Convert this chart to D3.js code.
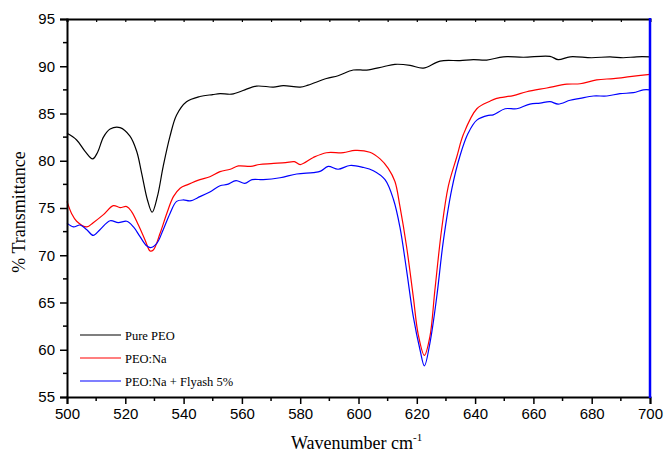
<!DOCTYPE html>
<html>
<head>
<meta charset="utf-8">
<script src="https://cdn.jsdelivr.net/npm/d3@7"></script>
<style>
  body { margin: 0; background: #fff; }
  svg { display: block; }
</style>
</head>
<body>
<svg id="chart" width="664" height="456"></svg>
<script>
// FTIR spectra, [wavenumber, % transmittance]
var pureEO = [
  [500, 82.9], [503.3, 82.2], [506.2, 81.0], [508.8, 80.2], [510.5, 80.9], [512.5, 82.5],
  [514.8, 83.35], [518.2, 83.5], [521.6, 82.6], [523.9, 81.0], [525.6, 78.7], [527.6, 75.85],
  [529.2, 74.55], [531, 76.2], [533, 79.4], [535.3, 82.55], [537.6, 84.85], [541, 86.25],
  [545.6, 86.8], [550, 87.0], [552.5, 87.1], [556.5, 87.05], [561, 87.5], [565, 87.9],
  [570.8, 87.8], [574.2, 87.95], [580, 87.8], [582.7, 88.0], [589, 88.7], [593, 89.0],
  [598.2, 89.6], [602.8, 89.6], [608.5, 89.95], [612.5, 90.2], [617.7, 90.1], [622.2, 89.8],
  [628, 90.55], [634.8, 90.6], [639.4, 90.7], [644, 90.65], [649.7, 91.0], [656.6, 90.95],
  [665.7, 91.05], [668.5, 90.7], [672.6, 91.0], [680, 90.9], [686.3, 91.0], [690.8, 90.9],
  [695.4, 91.0], [700, 91.0]
];
var peoNa = [
  [500, 75.7], [501.6, 74.4], [503.3, 73.6], [506.8, 73.0], [509, 73.45], [512.5, 74.3],
  [515.9, 75.25], [518.2, 75.05], [520.5, 75.15], [522.2, 74.6], [524.5, 73.2], [526.8, 71.6],
  [528.5, 70.45], [529.6, 70.55], [531.9, 72.3], [534.2, 74.4], [536.5, 76.2], [538.8, 77.1],
  [541.6, 77.5], [545.6, 78.0], [549, 78.3], [552.5, 78.85], [556, 79.1], [558.8, 79.45],
  [563, 79.4], [566, 79.6], [570, 79.7], [575, 79.8], [578, 79.9], [580, 79.6], [584.5, 80.35],
  [589, 80.85], [594.8, 80.85], [598.8, 81.1], [603.9, 80.9], [607.4, 80.2], [610.2, 79.2],
  [612.5, 77.8], [614.2, 75.2], [616.5, 70.9], [618.8, 65.6], [620.5, 61.6], [622.6, 59.4],
  [624.5, 61.4], [626.2, 66.3], [628.5, 72.7], [630.8, 77.3], [633.7, 80.4], [636, 82.8],
  [640.6, 85.5], [645.1, 86.3], [647.4, 86.6], [653.1, 86.9], [657.7, 87.3], [664.6, 87.7],
  [671.5, 88.1], [676, 88.15], [681.7, 88.55], [687.5, 88.7], [693.1, 88.9], [700, 89.15]
];
var peoNaFly = [
  [500, 73.4], [502.2, 73.0], [504.5, 73.2], [506.8, 72.7], [509, 72.1], [511.3, 72.7],
  [514.8, 73.65], [517.6, 73.45], [520.5, 73.6], [522.8, 73.0], [525, 72.0], [527.3, 71.0],
  [528.7, 70.8], [530.8, 71.25], [533, 72.7], [535.3, 74.4], [537.6, 75.7], [539.9, 75.85],
  [542.2, 75.75], [545.6, 76.2], [549, 76.7], [552.5, 77.35], [555, 77.5], [558, 77.9],
  [561, 77.6], [563.5, 78.0], [567.3, 78.0], [573.1, 78.2], [578.8, 78.6], [584.5, 78.75],
  [587, 78.9], [589.6, 79.4], [593, 79.1], [597.1, 79.5], [601.6, 79.3], [605.1, 78.95],
  [609.1, 78.0], [612, 75.9], [614.2, 73.0], [616.5, 68.4], [618.8, 63.5], [621.1, 60.0],
  [622.6, 58.3], [624.5, 60.7], [626.8, 65.5], [629.1, 71.5], [632, 77.0], [634.8, 80.5],
  [637.6, 82.9], [640.6, 84.3], [644.6, 84.8], [646.2, 84.85], [650.3, 85.5], [654.3, 85.5],
  [658.8, 86.0], [662.3, 86.1], [665.7, 86.25], [668.5, 86.0], [672.6, 86.4], [676, 86.6],
  [680.6, 86.85], [685.2, 86.85], [689.7, 87.1], [694.3, 87.2], [697.7, 87.5], [700, 87.5]
];
var seriesNames = ["Pure PEO", "PEO:Na", "PEO:Na + Flyash 5%"];
var seriesColors = ["#000000", "#ff0000", "#0000ff"];
var xTicks = d3.range(500, 701, 20);
var yTicks = d3.range(55, 96, 5);

var margin = { left: 67, right: 14, top: 19, bottom: 59 };
var W = 664, H = 456;
var svg = d3.select("#chart");

var x = d3.scaleLinear().domain([500, 700]).range([margin.left, W - margin.right]);
var y = d3.scaleLinear().domain([55, 95]).range([H - margin.bottom, margin.top]);

// curves first, axes on top
var line = d3.line()
  .x(d => x(d[0]))
  .y(d => y(d[1]))
  .curve(d3.curveCatmullRom.alpha(0.5));

var g = svg.append("g");
[pureEO, peoNa, peoNaFly].forEach((s, i) => {
  g.append("path")
    .datum(s)
    .attr("fill", "none")
    .attr("stroke", seriesColors[i])
    .attr("stroke-width", 1.2)
    .attr("d", line);
});

var tickFont = "'Liberation Sans', Arial, sans-serif";

// bottom axis
var xAxis = svg.append("g")
  .attr("transform", `translate(0,${y(55)})`)
  .call(d3.axisBottom(x).tickValues(xTicks).tickSize(7).tickPadding(4).tickFormat(d3.format("d")));
xAxis.select(".domain").attr("stroke-width", 2);
xAxis.selectAll(".tick line").attr("stroke-width", 1.5);
xAxis.selectAll("text").attr("font-family", tickFont).attr("font-size", 15).attr("fill", "#000");
xAxis.selectAll(".minor")
  .data(d3.range(510, 700, 20))
  .join("line")
  .attr("x1", d => x(d)).attr("x2", d => x(d))
  .attr("y1", 0).attr("y2", 4)
  .attr("stroke", "#000").attr("stroke-width", 1.5);

// left axis
var yAxis = svg.append("g")
  .attr("transform", `translate(${x(500)},0)`)
  .call(d3.axisLeft(y).tickValues(yTicks).tickSize(7).tickPadding(5));
yAxis.select(".domain").attr("stroke-width", 2);
yAxis.selectAll(".tick line").attr("stroke-width", 1.5);
yAxis.selectAll("text").attr("font-family", tickFont).attr("font-size", 15).attr("fill", "#000");
yAxis.selectAll(".minor")
  .data(d3.range(57.5, 95, 5))
  .join("line")
  .attr("x1", 0).attr("x2", -4)
  .attr("y1", d => y(d)).attr("y2", d => y(d))
  .attr("stroke", "#000").attr("stroke-width", 1.5);

// top axis, inward ticks
var topAxis = svg.append("g")
  .attr("transform", `translate(0,${y(95)})`)
  .call(d3.axisTop(x).tickValues(d3.range(500, 701, 10)).tickSize(-3).tickFormat(""));
topAxis.select(".domain").attr("stroke-width", 2);
topAxis.selectAll(".tick line").attr("stroke-width", 1.2);

// right axis drawn in blue
svg.append("line")
  .attr("x1", x(700)).attr("x2", x(700))
  .attr("y1", y(95) - 1).attr("y2", y(55) + 1)
  .attr("stroke", "#0000ff").attr("stroke-width", 2.5);

// axis titles
var titleFont = "'Liberation Serif', 'Times New Roman', serif";
var xt = svg.append("text")
  .attr("x", 291).attr("y", 449)
  .attr("font-family", titleFont).attr("font-size", 18).attr("fill", "#000");
xt.append("tspan").text("Wavenumber cm");
xt.append("tspan").attr("dy", -8).attr("font-size", 11).text("-1");

svg.append("text")
  .attr("transform", `translate(25,${(y(55) + y(95)) / 2 + 4}) rotate(-90)`)
  .attr("text-anchor", "middle")
  .attr("font-family", titleFont).attr("font-size", 18).attr("fill", "#000")
  .text("% Transmittance");

// legend
var legend = svg.append("g").attr("transform", "translate(80,335)");
seriesNames.forEach((name, i) => {
  var row = legend.append("g").attr("transform", `translate(0,${i * 23})`);
  row.append("line")
    .attr("x1", 0).attr("x2", 41).attr("y1", 0).attr("y2", 0)
    .attr("stroke", seriesColors[i]).attr("stroke-width", 1.2);
  row.append("text")
    .attr("x", 45).attr("y", 5)
    .attr("font-family", titleFont).attr("font-size", 12.5).attr("fill", "#000")
    .text(name);
});
</script>
</body>
</html>
